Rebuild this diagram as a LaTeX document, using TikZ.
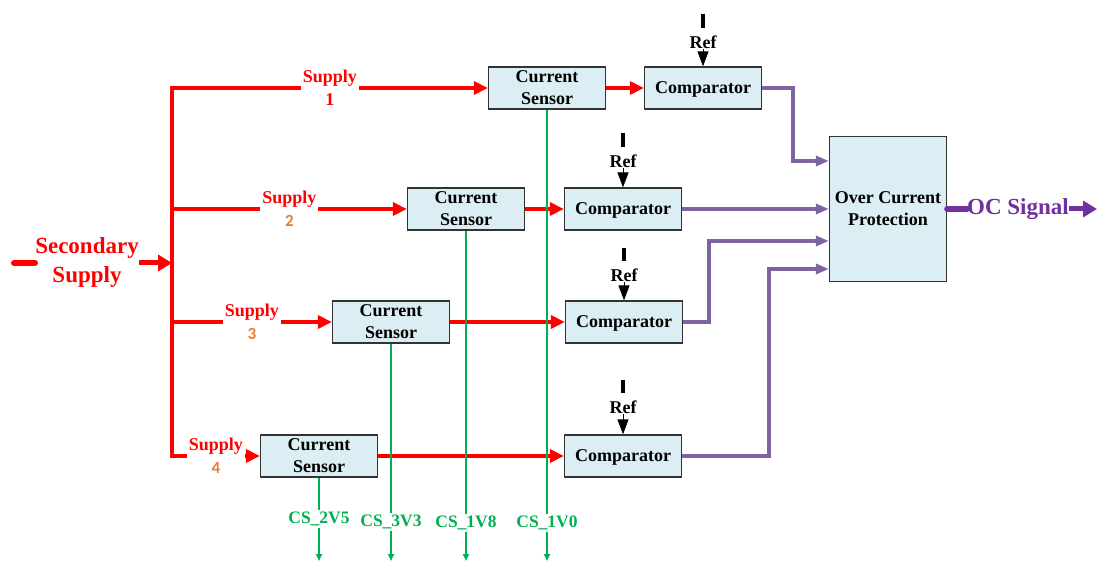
\documentclass[tikz,border=0pt]{standalone}
\usepackage{fontspec}
\setmainfont{Liberation Serif}
\newfontfamily\numfont{Carlito}
\usetikzlibrary{arrows.meta,positioning,calc}
\definecolor{boxblue}{HTML}{DAEEF3}
\definecolor{sigred}{HTML}{FF0000}
\definecolor{numorange}{HTML}{ED7D31}
\definecolor{csgreen}{HTML}{00B050}
\definecolor{linkpurple}{HTML}{8064A2}
\definecolor{ocpurple}{HTML}{7030A0}
\newcommand{\snum}[1]{{\numfont\fontsize{17}{20}\selectfont\color{numorange}#1}}

\begin{document}
\begin{tikzpicture}[x=1pt,y=-1pt,
 box/.style={draw=black!80,fill=boxblue,line width=1.3pt,minimum width=117pt,minimum height=42pt,align=center,inner sep=0pt,text depth=0pt,font=\bfseries\fontsize{18}{22}\selectfont},
 lbl/.style={align=center,inner sep=2pt,fill=white,text=sigred,font=\bfseries\fontsize{18}{23}\selectfont},
 reflbl/.style={inner sep=0pt,font=\bfseries\fontsize{18}{22}\selectfont},
 cslbl/.style={inner sep=2pt,text=csgreen,font=\bfseries\fontsize{17.5}{20}\selectfont},
 rline/.style={draw=sigred,line width=4pt},
 rarr/.style={rline,-{Triangle[length=14pt,width=13pt]}},
 parr/.style={draw=linkpurple,line width=3.8pt,-{Triangle[length=13pt,width=10pt]}},
 gline/.style={draw=csgreen,line width=1.8pt},
 garr/.style={gline,-{Triangle[length=7pt,width=6pt]}},
 refbar/.style={line width=4pt,shorten >=7pt},
 refarr/.style={line width=1pt,-{Triangle[length=15pt,width=11pt]}}]
 \useasboundingbox (0,0) rectangle (1097,561);
 % blocks
 \node[box] (cs1) at (547,88) {Current\\Sensor};
 \node[box] (cmp1) at (703,88) {Comparator};
 \node[box] (cs2) at (466,209) {Current\\Sensor};
 \node[box] (cmp2) at (623,209) {Comparator};
 \node[box] (cs3) at (391,322) {Current\\Sensor};
 \node[box] (cmp3) at (624,322) {Comparator};
 \node[box] (cs4) at (319,456) {Current\\Sensor};
 \node[box] (cmp4) at (623,456) {Comparator};
 \node[box,minimum height=145pt] (ocp) at (888,209) {Over Current\\Protection};
 % secondary supply and bus
 \node[inner sep=0pt,align=center,text=sigred,font=\bfseries\fontsize{23}{29}\selectfont] (sec) at (87,263) {Secondary\\Supply};
 \coordinate (src) at (14,263);
 \coordinate (b1) at (172,88); \coordinate (b2) at (172,209);
 \coordinate (b3) at (172,322); \coordinate (b4) at (172,456);
 \draw[sigred,line width=6pt,line cap=round] (src) -- (sec.west);
 \draw[sigred,line width=5pt,-{Triangle[length=14pt,width=16pt]}] (sec.east) -- (sec.east -| b2);
 \draw[rline,line cap=rect] (b1) -- (b4);
 \draw[rarr] (b1) -- node[lbl]{Supply\\1} (cs1);
 \draw[rarr] (b2) -- node[lbl]{Supply\\\snum{2}} (cs2);
 \draw[rarr] (b3) -- node[lbl]{Supply\\\snum{3}} (cs3);
 \draw[rarr] (b4) -- node[lbl]{Supply\\\snum{4}} (cs4);
 \draw[rarr] (cs1) -- (cmp1); \draw[rarr] (cs2) -- (cmp2);
 \draw[rarr] (cs3) -- (cmp3); \draw[rarr] (cs4) -- (cmp4);
 % references
 \node[reflbl] (ref1) at (703,42) {Ref}; \coordinate (rt1) at (703,14);
 \node[reflbl] (ref2) at (623,161) {Ref}; \coordinate (rt2) at (623,133);
 \node[reflbl] (ref3) at (624,275) {Ref}; \coordinate (rt3) at (624,248);
 \node[reflbl] (ref4) at (623,407) {Ref}; \coordinate (rt4) at (623,380);
 \foreach \i in {1,...,4} {
  \draw[refbar] (rt\i) -- (ref\i);
  \draw[refarr] (ref\i) -- (cmp\i);
 }
 % comparator outputs
 \draw[parr] (cmp1.east) -- ++(31,0) |- ([yshift=48pt]ocp.west);
 \draw[parr] (cmp2) -- (ocp);
 \draw[parr] (cmp3.east) -- ++(26,0) |- ([yshift=-32pt]ocp.west);
 \draw[parr] (cmp4.east) -- ++(87,0) |- ([yshift=-60pt]ocp.west);
 \node[inner sep=0pt,text=ocpurple,font=\bfseries\fontsize{23}{28}\selectfont] (ocs) at (1018,209) {OC Signal};
 \coordinate (oce) at (1097,209);
 \draw[ocpurple,line width=6pt,line cap=round] (ocp.east) -- (ocs.west);
 \draw[ocpurple,line width=5pt,-{Triangle[length=14pt,width=16pt]}] (ocs.east) -- (oce);
 % sensor outputs
 \node[cslbl] (g4) at (319,519) {CS\_2V5}; \coordinate (ge4) at (319,561);
 \node[cslbl] (g3) at (391,522) {CS\_3V3}; \coordinate (ge3) at (391,561);
 \node[cslbl] (g2) at (466,523) {CS\_1V8}; \coordinate (ge2) at (466,561);
 \node[cslbl] (g1) at (547,523) {CS\_1V0}; \coordinate (ge1) at (547,561);
 \foreach \i in {1,...,4} {
  \draw[gline] (cs\i) -- (g\i);
  \draw[garr] (g\i) -- (ge\i);
 }
\end{tikzpicture}
\end{document}
